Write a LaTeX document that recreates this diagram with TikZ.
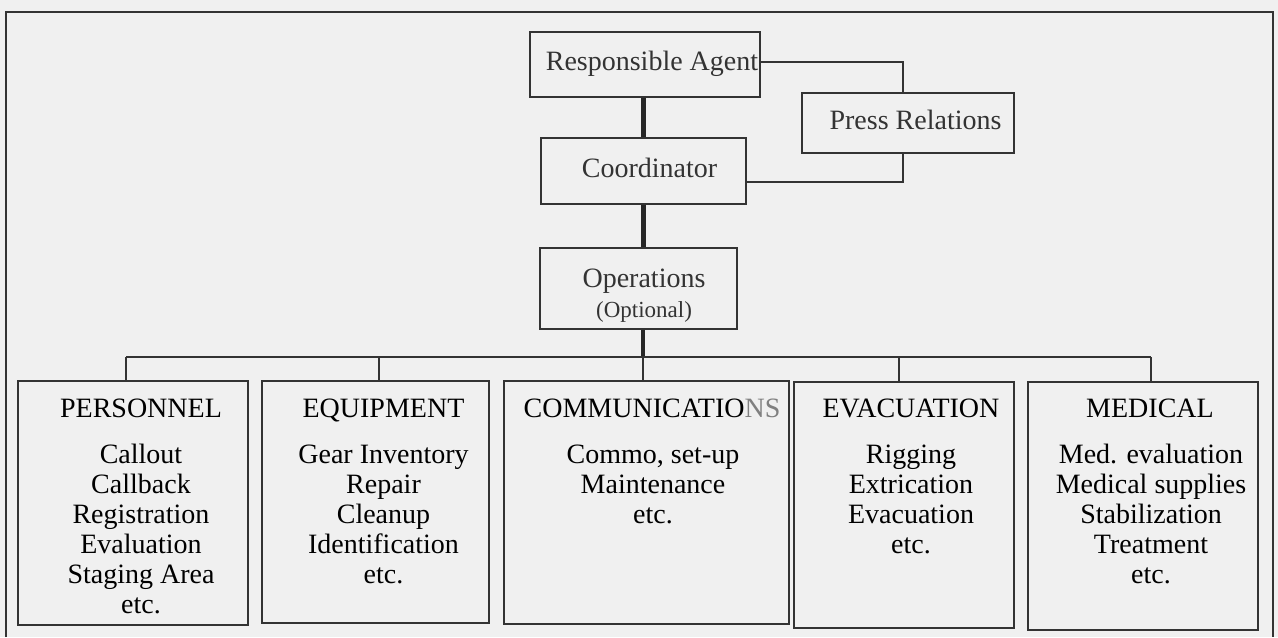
\documentclass[tikz,border=0pt]{standalone}
\usepackage{fontspec}
\setmainfont{Liberation Serif}
\begin{document}
\begin{tikzpicture}[x=0.5pt,y=-0.5pt,
  box/.style={draw=black!80, line width=1pt, inner sep=0pt},
  lbl/.style={inner sep=0pt, anchor=base, text=black!80, font=\fontsize{14}{15}\selectfont},
  head/.style={inner sep=0pt, anchor=base, text=black, font=\fontsize{14}{15}\selectfont},
  small/.style={inner sep=0pt, anchor=base, text=black!80, font=\fontsize{11.5}{13}\selectfont},
  body/.style={inner sep=0pt, anchor=north, align=center, text=black, font=\fontsize{14}{15}\selectfont},
  thinline/.style={draw=black!80, line width=0.8pt},
  thickline/.style={draw=black!85, line width=2.2pt},
]
\fill[black!6] (0,0) rectangle (1278,637);
\useasboundingbox (0,0) rectangle (1278,637);
\draw[line width=1.4pt, black!80] (6,637) -- (6,12) -- (1273,12) -- (1273,637);

% upper boxes
\node[box, minimum width=115pt, minimum height=32.5pt] (RA) at (645,64.5) {};
\node[lbl] (tRA) at (652,70) {Responsible Agent};
\node[box, minimum width=106pt, minimum height=30pt] (PR) at (908,123) {};
\node[lbl] (tPR) at (915.5,129) {Press Relations};
\node[box, minimum width=102.5pt, minimum height=33pt] (CO) at (643.5,171) {};
\node[lbl] (tCO) at (649.5,177) {Coordinator};
\node[box, minimum width=98.5pt, minimum height=40.5pt] (OP) at (638.5,288.5) {};
\node[lbl] (tOP) at (644,287) {Operations};
\node[small] (tOPo) at (644,317) {(Optional)};

% lower boxes
\node[box, minimum width=115pt, minimum height=122pt] (P) at (133,503) {};
\node[box, minimum width=113.5pt, minimum height=121pt] (E) at (375.5,502) {};
\node[box, minimum width=142.5pt, minimum height=121.5pt] (C) at (646.5,502.5) {};
\node[box, minimum width=110pt, minimum height=123pt] (V) at (904,505) {};
\node[box, minimum width=115pt, minimum height=124pt] (M) at (1143,506) {};

\node[head] (hP) at (141,417) {PERSONNEL};
\node[head] (hE) at (383.5,417) {EQUIPMENT};
\node[head] (hC) at (652,417) {COMMUNICATIO\textcolor{black!50}{NS}};
\node[head] (hV) at (911,417) {EVACUATION};
\node[head] (hM) at (1150,417) {MEDICAL};

\node[body] (bP) at (141,442) {\strut Callout\\Callback\\Registration\\Evaluation\\Staging Area\\etc.};
\node[body] (bE) at (383.5,442) {\strut Gear Inventory\\Repair\\Cleanup\\Identification\\etc.};
\node[body] (bC) at (653,442) {\strut Commo, set-up\\Maintenance\\etc.};
\node[body] (bV) at (911,442) {\strut Rigging\\Extrication\\Evacuation\\etc.};
\node[body] (bM) at (1151,442) {\strut Med. evaluation\\Medical supplies\\Stabilization\\Treatment\\etc.};

% connectors
\draw[thinline] ([yshift=1.25pt]RA.east) -| ([xshift=-2.5pt]PR.north);
\draw[thinline] ([xshift=-2.5pt]PR.south) |- ([yshift=-5.5pt]CO.east);
\draw[thickline] (RA.south -| CO.north) -- (CO.north);
\draw[thickline] (CO.south) -- (CO.south |- OP.north);

\coordinate (bus) at (643,357);
\coordinate (dP) at (126,357);
\coordinate (dE) at (379,357);
\coordinate (dV) at (899,357);
\coordinate (dM) at (1151,357);
\draw[thickline] (OP.south -| bus) -- (bus);
\draw[thinline] (dP) -- (dM);
\draw[thinline] (bus) -- (bus |- C.north);
\draw[thinline] (dP) -- (dP |- P.north);
\draw[thinline] (dE) -- (dE |- E.north);
\draw[thinline] (dV) -- (dV |- V.north);
\draw[thinline] (dM) -- (dM |- M.north);
\end{tikzpicture}
\end{document}
